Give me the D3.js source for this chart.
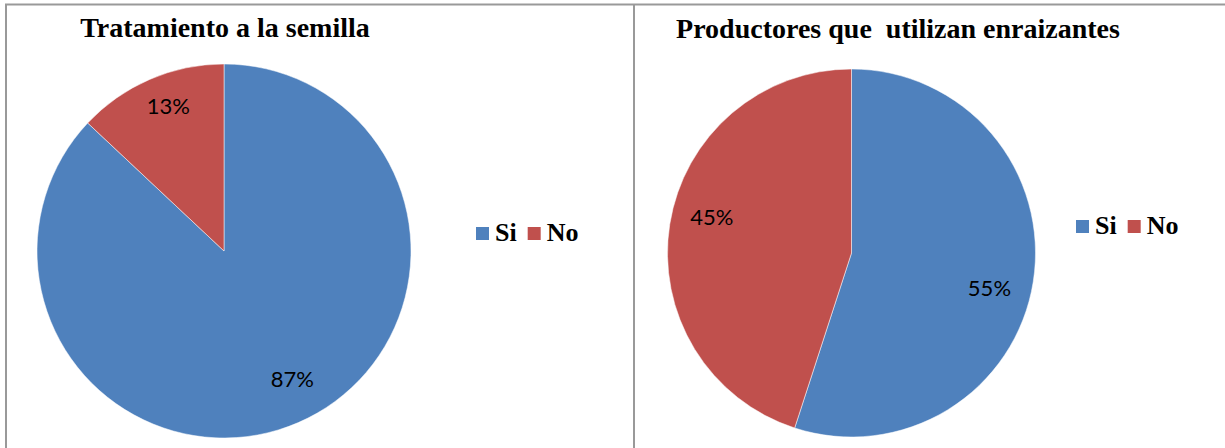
<!DOCTYPE html>
<html><head><meta charset="utf-8">
<script src="https://cdn.jsdelivr.net/npm/d3@7"></script>
<style>body{margin:0;background:#fff;}</style>
</head><body>
<svg id="c" width="1225" height="448"></svg>
<script>
const categories = ["Si", "No"];
const colors = ["#4F81BD", "#C0504D"];
const chart1Title = "Tratamiento a la semilla";
const chart1Values = [87, 13];
const chart1Labels = ["87%", "13%"];
const chart2Title = "Productores que \u00a0utilizan enraizantes";
const chart2Values = [55, 45];
const chart2Labels = ["55%", "45%"];

const svg = d3.select("#c");
// frame
svg.append("line").attr("x1",5).attr("x2",1225).attr("y1",4.5).attr("y2",4.5).attr("stroke","#999").attr("stroke-width",2);
svg.append("line").attr("x1",6).attr("x2",6).attr("y1",4).attr("y2",448).attr("stroke","#999").attr("stroke-width",2);
svg.append("line").attr("x1",634).attr("x2",634).attr("y1",4).attr("y2",448).attr("stroke","#999").attr("stroke-width",2);

const color = d3.scaleOrdinal().domain(categories).range(colors);

function drawPie(cfg){
  const g = svg.append("g");
  g.append("text").attr("x",cfg.tx).attr("y",cfg.ty).attr("text-anchor","middle")
    .style("font-family","'Liberation Serif','Times New Roman',serif").style("font-weight","bold")
    .style("font-size","28px").style("white-space","pre").text(cfg.title);
  const data = categories.map((c,i)=>({cat:c, v:cfg.values[i], label:cfg.labels[i]}));
  const pie = d3.pie().sort(null).value(d=>d.v);
  const arc = d3.arc().innerRadius(0).outerRadius(cfg.r);
  const pg = g.append("g").attr("transform",`translate(${cfg.cx},${cfg.cy})`);
  const arcs = pie(data);
  pg.selectAll("path").data(arcs).join("path").attr("d",arc).attr("fill",d=>color(d.data.cat))
    .attr("stroke","#fff").attr("stroke-width",0.5);
  pg.selectAll("text").data(arcs).join("text")
    .attr("transform",(d,i)=>{
      const lr = cfg.r*cfg.lr[i];
      const c = d3.arc().innerRadius(lr).outerRadius(lr).centroid(d);
      return `translate(${c[0]+cfg.off[i][0]},${c[1]+cfg.off[i][1]})`;
    })
    .attr("text-anchor","middle").attr("dominant-baseline","central")
    .style("font-family","Lato,'Noto Sans',sans-serif").style("font-size","22px").attr("fill","#000")
    .text(d=>d.data.label);
  // legend
  const lg = g.append("g").attr("transform",`translate(${cfg.lx},${cfg.ly})`);
  let x = 0;
  categories.forEach((c,i)=>{
    lg.append("rect").attr("x",x).attr("y",-13).attr("width",13).attr("height",13).attr("fill",color(c));
    const t = lg.append("text").attr("x",x+19).attr("y",1)
      .style("font-family","'Liberation Serif','Times New Roman',serif").style("font-weight","bold")
      .style("font-size","26px").text(c);
    x += 19 + t.node().getComputedTextLength() + 11;
  });
}

drawPie({title:chart1Title, tx:225, ty:37, values:chart1Values, labels:chart1Labels,
  cx:224, cy:251, r:187, lr:[0.8,0.83], off:[[9,-10],[6,-3]], lx:476, ly:240});
drawPie({title:chart2Title, tx:898, ty:38, values:chart2Values, labels:chart2Labels,
  cx:851.5, cy:253, r:184, lr:[0.77,0.79], off:[[-2,12],[4,-14]], lx:1076, ly:233});
</script>
</body></html>
